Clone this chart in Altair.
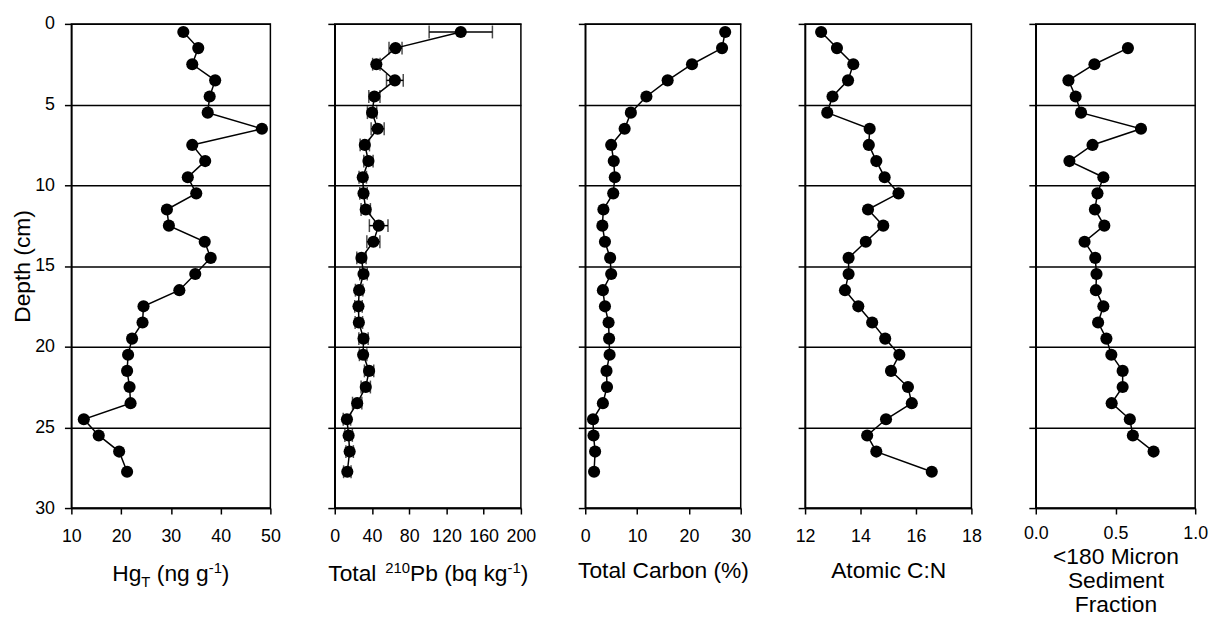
import altair as alt
import pandas as pd

FONT = "Liberation Sans"

# ---------------- data ----------------
depth = [0.5, 1.5, 2.5, 3.5, 4.5, 5.5, 6.5, 7.5, 8.5, 9.5, 10.5, 11.5, 12.5, 13.5,
         14.5, 15.5, 16.5, 17.5, 18.5, 19.5, 20.5, 21.5, 22.5, 23.5, 24.5, 25.5, 26.5, 27.75]

hg = [32.5, 35.5, 34.3, 38.9, 37.8, 37.4, 48.3, 34.3, 36.9, 33.4, 35.1, 29.2, 29.6, 36.8,
      38.0, 34.9, 31.7, 24.5, 24.3, 22.2, 21.4, 21.2, 21.7, 21.9, 12.5, 15.5, 19.6, 21.2]

pb = [135.4, 65.3, 44.7, 64.6, 42.6, 40.1, 46.1, 32.3, 36.2, 30.1, 30.9, 33.3, 47.2, 41.5,
      28.7, 30.9, 26.2, 25.5, 25.9, 30.9, 30.5, 36.9, 33.3, 24.1, 13.1, 14.9, 16.0, 13.5]
pb_err = [34, 7, 4, 9, 6, 5, 7, 5, 5, 4, 4, 5, 10, 7,
          5, 4, 4, 4, 4, 5, 4, 5, 5, 5, 4, 4, 4, 4]

tc = [27.0, 26.4, 20.6, 15.9, 11.8, 8.8, 7.6, 5.0, 5.5, 5.7, 5.4, 3.5, 3.3, 3.8,
      4.8, 5.0, 3.4, 3.8, 4.5, 4.6, 4.7, 4.1, 4.2, 3.4, 1.5, 1.6, 1.9, 1.7]

cn = [12.58, 13.15, 13.74, 13.55, 12.99, 12.80, 14.33, 14.30, 14.57, 14.87, 15.37, 14.27, 14.82, 14.19,
      13.57, 13.57, 13.44, 13.92, 14.42, 14.89, 15.40, 15.10, 15.71, 15.85, 14.92, 14.24, 14.57, 16.57]

frac_depth = [1.5, 2.5, 3.5, 4.5, 5.5, 6.5, 7.5, 8.5, 9.5, 10.5, 11.5, 12.5, 13.5,
              14.5, 15.5, 16.5, 17.5, 18.5, 19.5, 20.5, 21.5, 22.5, 23.5, 24.5, 25.5, 26.5]
frac = [0.578, 0.368, 0.205, 0.250, 0.284, 0.660, 0.356, 0.211, 0.424, 0.387, 0.371, 0.430, 0.306,
        0.373, 0.381, 0.377, 0.424, 0.391, 0.443, 0.474, 0.545, 0.545, 0.476, 0.590, 0.609, 0.739]

depth_ticks = [0, 5, 10, 15, 20, 25, 30]

H = 489


def yenc(first):
    ax = dict(values=depth_ticks, grid=True, gridColor="black", gridWidth=1.5, gridOpacity=1,
              tickSize=7, labels=first, labelPadding=10, labelFontSize=18)
    if first:
        ax.update(title="Depth (cm)", titleX=-42, titleY=H / 2, titleAngle=270,
                  titleBaseline="alphabetic", titleAlign="center", titleFontSize=23)
    else:
        ax.update(title=None)
    return alt.Y("depth:Q",
                 scale=alt.Scale(domain=[0, 30], reverse=True, nice=False, zero=False),
                 axis=alt.Axis(**ax))


def xenc(field, domain, ticks, fmt=None, title=None, title_opts=None, label_pad=14):
    ax = dict(values=ticks, grid=False, tickSize=6, labelPadding=label_pad, labelFontSize=18,
              labelOverlap=False, labelFlush=False, title=title)
    if fmt:
        ax["format"] = fmt
    if title_opts:
        ax.update(title_opts)
    return alt.X(f"{field}:Q", scale=alt.Scale(domain=domain, nice=False, zero=False),
                 axis=alt.Axis(**ax))


def text_piece(txt, x, y, size):
    return alt.Chart(pd.DataFrame({"t": [txt]})).mark_text(
        align="left", baseline="alphabetic", font=FONT, fontSize=size, color="black"
    ).encode(text="t:N", x=alt.value(x), y=alt.value(y))


def panel(df, field, domain, ticks, width, first=False, fmt=None, title=None,
          title_opts=None, pre_layers=(), post_layers=(), label_pad=14):
    x = xenc(field, domain, ticks, fmt, title, title_opts, label_pad)
    y = yenc(first)
    base = alt.Chart(df)
    line = base.mark_line(color="black", strokeWidth=1.5).encode(x=x, y=y, order="depth:Q")
    pts = base.mark_circle(size=150, color="black", opacity=1).encode(x=x, y=y)
    return alt.layer(*pre_layers, line, pts, *post_layers).properties(width=width, height=H)


# ---- panel 1: Hg ----
df1 = pd.DataFrame({"depth": depth, "v": hg})
t1y = 563
t1 = [
    text_piece("Hg", 41.3, t1y, 23),
    text_piece("T", 70.7, t1y + 6, 15),
    text_piece("(ng g", 86.3, t1y, 23),
    text_piece("-1", 138.7, t1y - 8, 15),
    text_piece(")", 152.0, t1y, 23),
]
p1 = panel(df1, "v", [10, 50], [10, 20, 30, 40, 50], 201, first=True, post_layers=t1)

# ---- panel 2: Pb-210 ----
df2 = pd.DataFrame({"depth": depth, "v": pb,
                    "lo": [a - e for a, e in zip(pb, pb_err)],
                    "hi": [a + e for a, e in zip(pb, pb_err)]})
x2dom = [0, 200]
x2ticks = [0, 40, 80, 120, 160, 200]
y2 = yenc(False)
err_rule = alt.Chart(df2).mark_rule(color="black", strokeWidth=1.5).encode(
    x=xenc("lo", x2dom, x2ticks), x2="hi:Q", y=y2)
cap_lo = alt.Chart(df2).mark_tick(orient="vertical", size=13, thickness=1.5, color="black").encode(
    x=xenc("lo", x2dom, x2ticks), y=y2)
cap_hi = alt.Chart(df2).mark_tick(orient="vertical", size=13, thickness=1.5, color="black").encode(
    x=xenc("hi", x2dom, x2ticks), y=y2)
t2y = 563
t2 = [
    text_piece("Total", -6.5, t2y, 23),
    text_piece("210", 51.0, t2y - 8, 15),
    text_piece("Pb (bq kg", 76.0, t2y, 23),
    text_piece("-1", 174.5, t2y - 8, 15),
    text_piece(")", 187.8, t2y, 23),
]
p2 = panel(df2, "v", x2dom, x2ticks, 188, pre_layers=(err_rule, cap_lo, cap_hi), post_layers=t2)

# ---- panel 3: Total carbon ----
df3 = pd.DataFrame({"depth": depth, "v": tc})
p3 = panel(df3, "v", [0, 30], [0, 10, 20, 30], 157, title="Total Carbon (%)",
           title_opts=dict(titleY=70, titleBaseline="alphabetic", titleFontSize=23))

# ---- panel 4: C:N ----
df4 = pd.DataFrame({"depth": depth, "v": cn})
p4 = panel(df4, "v", [12, 18], [12, 14, 16, 18], 168, title="Atomic C:N",
           title_opts=dict(titleY=70, titleBaseline="alphabetic", titleFontSize=23))

# ---- panel 5: fine fraction ----
df5 = pd.DataFrame({"depth": frac_depth, "v": frac})
p5 = panel(df5, "v", [0, 1], [0, 0.5, 1.0], 161, fmt=".1f",
           title=["<180 Micron", "Sediment", "Fraction"],
           title_opts=dict(titleY=56, titleBaseline="alphabetic", titleFontSize=23,
                           titleLineHeight=24),
           label_pad=11)

chart = alt.hconcat(p1, p2, p3, p4, p5, spacing=65, bounds="flush").properties(
    padding={"left": 3, "top": 3, "right": 5, "bottom": 0},
    background="white",
).configure_view(
    stroke="black", strokeWidth=1.5
).configure_axis(
    labelFont=FONT, titleFont=FONT, labelColor="black", titleColor="black",
    titleFontWeight="normal", domainColor="black", domainWidth=1.5,
    tickColor="black", tickWidth=1.5
).configure_text(font=FONT)

chart.save("out.html", embed_options={"renderer": "svg", "actions": False})
